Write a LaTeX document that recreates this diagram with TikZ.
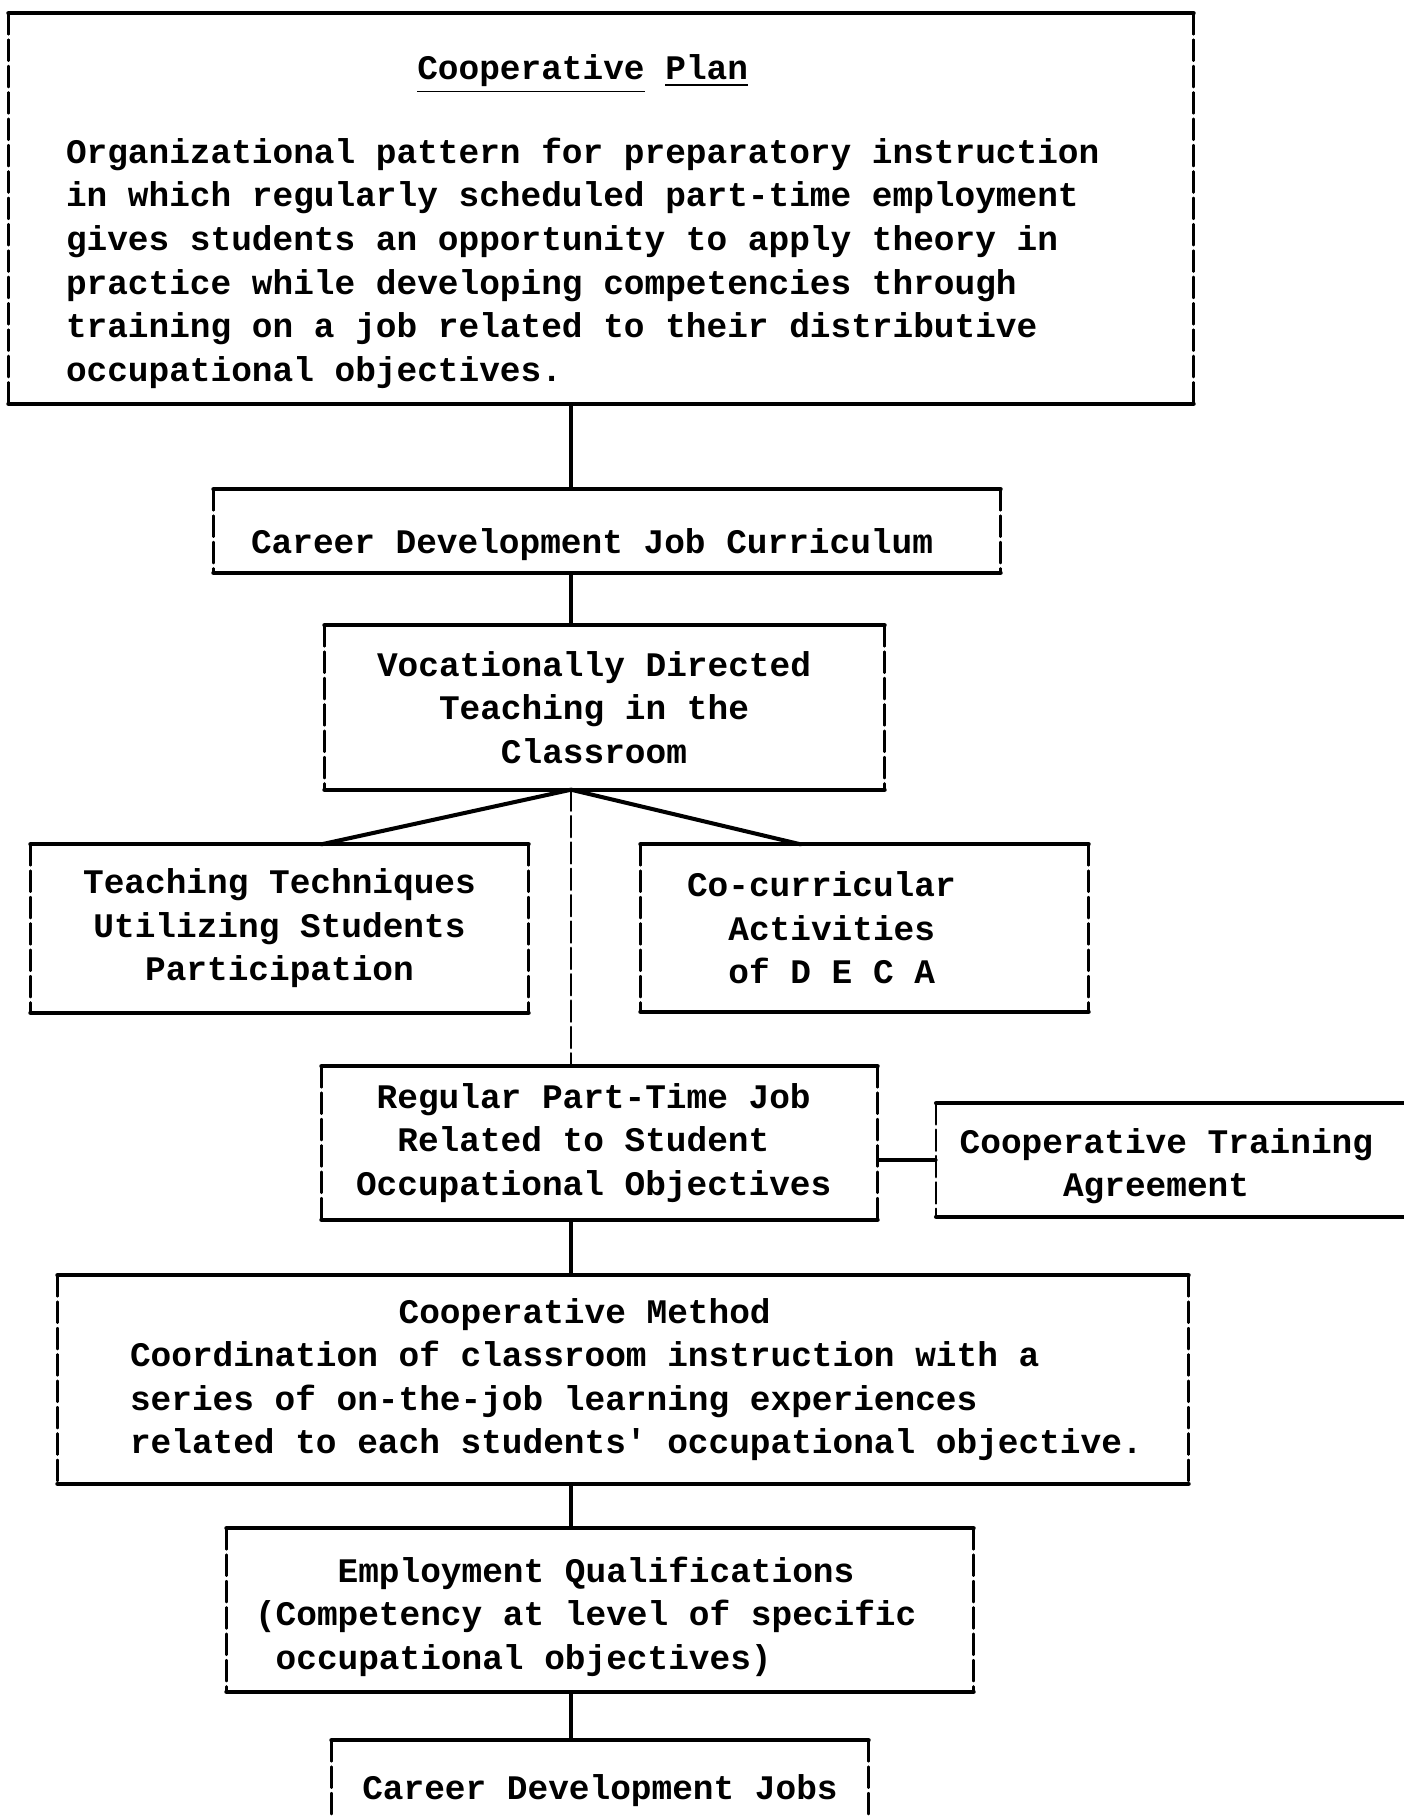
\documentclass[tikz,border=0pt]{standalone}
\usepackage{fontspec}
\setmonofont{Liberation Mono}
\usetikzlibrary{calc}
\begin{document}
\begin{tikzpicture}[line join=round, line cap=round]
			\useasboundingbox (0,0) rectangle (14.03,-18.16);
			\def\wsp{\spaceskip=.6em\relax}
			\tikzset{typed/.style={inner sep=2pt,font=\ttfamily\bfseries\fontsize{9.8}{12.4}\selectfont},
				rule/.style={line width=1.15pt},
				link/.style={line width=.9pt},
				side/.style={line width=.7pt,dash pattern=on 6pt off 1.5pt}}
			
			%------------khung tren
			\node[typed,align=left,text width=10.70cm,inner xsep=.57cm,minimum height=3.89cm] (plan) at (6.01,-2.085) {\wsp\rule{0pt}{.51cm}\hspace*{10.2em}\underline{Cooperative} \underline{Plan}\\[0.4cm]
				Organizational pattern for preparatory instruction\\
				in which regularly scheduled part-time employment\\
				gives students an opportunity to apply theory in\\
				practice while developing competencies through\\
				training on a job related to their distributive\\
				occupational objectives.};
			\node[typed,align=left,text width=7.12cm,inner xsep=.37cm,minimum height=.82cm] (curr) at (6.07,-5.31) {\wsp\rule{0pt}{.53cm}Career Development Job Curriculum};
			\node[typed,align=left,text width=4.55cm,inner xsep=.52cm,minimum height=1.63cm] (voc) at (6.045,-7.075) {\wsp Vocationally Directed\\\hspace*{1.8em}Teaching in the\\\hspace*{3.6em}Classroom};
			
			%------------hai khung ben
			\node[typed,align=center,minimum width=4.97cm,minimum height=1.67cm] (tech) at (2.795,-9.285) {Teaching Techniques\\Utilizing Students\\Participation};
			\node[typed,align=left,text width=3.55cm,inner xsep=.46cm,minimum height=1.66cm] (deca) at (8.645,-9.28) {\wsp Co-curricular\\\hspace*{1.2em}Activities\\\hspace*{1.2em}of D E C A};
			
			%------------khung giua
			\node[typed,align=left,text width=4.87cm,inner xsep=.34cm,minimum height=1.52cm] (job) at (5.995,-11.43) {\wsp\hspace*{.6em}Regular Part-Time Job\\\hspace*{1.2em}Related to Student\\Occupational Objectives};
			\node[typed,align=left,anchor=west,text width=4.44cm,inner xsep=.23cm,minimum height=1.12cm] (agree) at (9.36,-11.60) {\wsp\rule{0pt}{.37cm}Cooperative Training\\\hspace*{3em}Agreement};
			\node[typed,align=left,text width=11.0cm,inner xsep=.15cm,minimum height=2.07cm] (method) at (6.23,-13.795) {\wsp\hspace*{.57cm}\hspace*{7.8em}Cooperative Method\\
				\hspace*{.57cm}Coordination of classroom instruction with a\\
				\hspace*{.57cm}series of on-the-job learning experiences\\
				\hspace*{.57cm}related to each students' occupational objective.};
			
			%------------khung duoi
			\node[typed,align=left,text width=6.90cm,inner xsep=.28cm,minimum height=1.62cm] (qual) at (6.00,-16.10) {\wsp\rule{0pt}{.39cm}\hspace*{2.4em}Employment Qualifications\\
				(Competency at level of specific\\
				\hspace*{.6em}occupational objectives)};
			\node[typed,minimum width=5.36cm,minimum height=.99cm] (jobs) at (6.00,-17.905) {Career Development Jobs};
			
			%------------vien
			\foreach \n in {plan,curr,voc,tech,deca,job,agree,method,qual,jobs}{
				\draw[rule] (\n.north west) -- (\n.north east) (\n.south west) -- (\n.south east);
				\draw[side] (\n.north west) -- (\n.south west) (\n.north east) -- (\n.south east);
			}
			
			%------------duong noi
			\coordinate (trunk) at (5.71,0);
			\draw[link] (plan.south -| trunk) -- (curr.north -| trunk);
			\draw[link] (curr.south -| trunk) -- (voc.north -| trunk);
			\draw[rule] ($(tech.north)+(.42,0)$) -- (voc.south -| trunk) -- ($(deca.north)+(-.64,0)$);
			\draw[side] (voc.south -| trunk) -- (job.north -| trunk);
			\draw[link] (agree.west) -- (agree.west -| job.east);
			\draw[link] (job.south -| trunk) -- (method.north -| trunk);
			\draw[link] (method.south -| trunk) -- (qual.north -| trunk);
			\draw[link] (qual.south -| trunk) -- (jobs.north -| trunk);
		\end{tikzpicture}
\end{document}
